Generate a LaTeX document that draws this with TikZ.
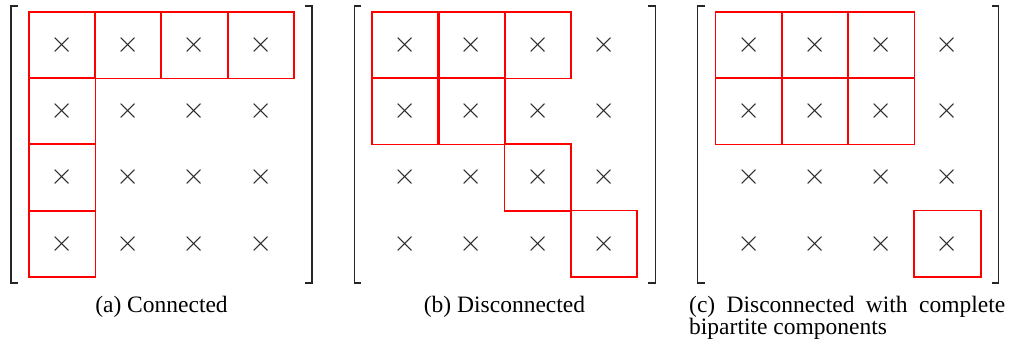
\documentclass[tikz,border=0pt]{standalone}
\usepackage{graphicx}
\usepackage{fontspec}
\setmainfont{Liberation Serif}
\newcommand{\entrymark}{\scalebox{1.2}{$\times$}}
\begin{document}
\begin{tikzpicture}[x=1pt, y=-1pt]
\tikzset{
  cell/.style={minimum size=66.2pt, inner sep=0pt, text=black!85,
               font=\fontsize{23.5}{24}\selectfont},
  hit/.style={draw=red, line width=1.7pt},
  brk/.style={draw=black!85, line width=1.5pt},
  captext/.style={inner sep=0pt, font=\fontsize{23.5}{20.7}\selectfont}
}
\useasboundingbox (0,0) rectangle (1009,347);

% three 4x4 matrices of entries
\foreach \p/\xo in {a/29, b/372.3, c/715.7} {
  \foreach \r in {1,...,4} {
    \foreach \c in {1,...,4} {
      \node[cell] (\p-\r-\c) at ({\xo+(\c-0.5)*66.2}, {12+(\r-0.5)*66.2}) {\entrymark};
    }
  }
  % matrix brackets
  \coordinate (\p-lt) at (\xo-18, 6);
  \coordinate (\p-lb) at (\xo-18, 283);
  \coordinate (\p-rt) at (\xo+283, 6);
  \coordinate (\p-rb) at (\xo+283, 283);
  \draw[brk] ([xshift=7pt]\p-lt) -- (\p-lt) -- (\p-lb) -- ([xshift=7pt]\p-lb);
  \draw[brk] ([xshift=-7pt]\p-rt) -- (\p-rt) -- (\p-rb) -- ([xshift=-7pt]\p-rb);
}

% highlighted entries of each component
\foreach \n in {a-1-1, a-1-2, a-1-3, a-1-4, a-2-1, a-3-1, a-4-1,
                b-1-1, b-1-2, b-1-3, b-2-1, b-2-2, b-3-3, b-4-4,
                c-1-1, c-1-2, c-1-3, c-2-1, c-2-2, c-2-3, c-4-4}
  \draw[hit] (\n.north west) rectangle (\n.south east);

% captions
\node[captext, anchor=base] (capa) at (161.5, 312.7) {(a) Connected};
\node[captext, anchor=base] (capb) at (504.5, 312.7) {(b) Disconnected};
\node[captext, anchor=base west, text depth=0pt] (capc) at (689, 312.7)
  {\makebox[316pt][s]{(c) Disconnected with complete}};
\node[captext, anchor=base west] (capc2) at (689, 334.5) {bipartite components};
\end{tikzpicture}
\end{document}
